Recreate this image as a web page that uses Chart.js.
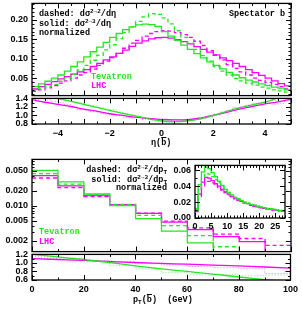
<!DOCTYPE html>
<html>
<head>
<meta charset="utf-8">
<script src="https://cdn.jsdelivr.net/npm/chart.js"></script>
<style>
body { margin: 0; background: #fff; width: 302px; height: 309px; position: relative; overflow: hidden; }
canvas { position: absolute; }
.t { position: absolute; font: bold 8.5px 'Liberation Mono', monospace; line-height: 9px; white-space: nowrap; color: #000; }
.t sup { font-size: 6px; vertical-align: 3px; line-height: 0; }
.t sub { font-size: 6px; vertical-align: -2px; line-height: 0; }
.bar { text-decoration: overline; }
</style>
</head>
<body>
<canvas id="etaMain" width="302" height="111" style="left:0;top:-6px"></canvas>
<canvas id="etaRatio" width="302" height="57" style="left:0;top:89px"></canvas>
<canvas id="ptMain" width="302" height="111" style="left:0;top:150px"></canvas>
<canvas id="ptRatio" width="302" height="57" style="left:0;top:245px"></canvas>
<canvas id="ptLow" width="124" height="80" style="left:165px;top:156px"></canvas>

<div class="t" style="left:39px;top:10px">dashed: dσ<sup>2→2</sup>/dη</div>
<div class="t" style="left:39px;top:20px">solid: dσ<sup>2→3</sup>/dη</div>
<div class="t" style="left:39px;top:29px">normalized</div>
<div class="t" style="left:229px;top:10px">Spectator b</div>
<div class="t" style="left:91px;top:73px;color:#22e822">Tevatron</div>
<div class="t" style="left:91px;top:82px;color:#ff00ff">LHC</div>
<div class="t" style="left:151px;top:139px">η(<span class="bar">b</span>)</div>

<div class="t" style="right:135px;top:166px;text-align:right">dashed: dσ<sup>2→2</sup>/dp<sub>T</sub></div>
<div class="t" style="right:135px;top:176px;text-align:right">solid: dσ<sup>2→3</sup>/dp<sub>T</sub></div>
<div class="t" style="right:135px;top:184px;text-align:right">normalized</div>
<div class="t" style="left:39px;top:228px;color:#22e822">Tevatron</div>
<div class="t" style="left:39px;top:238px;color:#ff00ff">LHC</div>
<div class="t" style="left:133px;top:296px">p<sub>T</sub>(<span class="bar">b</span>)&nbsp;&nbsp;(GeV)</div>

<script>
// eta of the spectator b, 0.25 wide bins
const etaEdges = [-5, -4.75, -4.5, -4.25, -4, -3.75, -3.5, -3.25, -3, -2.75, -2.5, -2.25, -2, -1.75, -1.5, -1.25, -1, -0.75, -0.5, -0.25,
    0, 0.25, 0.5, 0.75, 1, 1.25, 1.5, 1.75, 2, 2.25, 2.5, 2.75, 3, 3.25, 3.5, 3.75, 4, 4.25, 4.5, 4.75, 5];
const etaTevSolid = [0.028, 0.035, 0.042, 0.050, 0.058, 0.068, 0.080, 0.092, 0.105, 0.118,
    0.130, 0.142, 0.155, 0.165, 0.175, 0.182, 0.187, 0.189, 0.188, 0.183,
    0.170, 0.158, 0.147, 0.135, 0.124, 0.113, 0.102, 0.092, 0.083, 0.074,
    0.065, 0.058, 0.051, 0.045, 0.040, 0.035, 0.031, 0.027, 0.024, 0.020];
const etaTevDashed = [0.020, 0.024, 0.029, 0.034, 0.042, 0.050, 0.060, 0.071, 0.083, 0.096,
    0.109, 0.123, 0.136, 0.152, 0.167, 0.182, 0.196, 0.208, 0.216, 0.214,
    0.205, 0.190, 0.172, 0.155, 0.140, 0.124, 0.108, 0.094, 0.080, 0.068,
    0.058, 0.049, 0.043, 0.037, 0.032, 0.027, 0.024, 0.020, 0.017, 0.014];
const etaLhcSolid = [0.022, 0.028, 0.034, 0.041, 0.048, 0.054, 0.060, 0.066, 0.072, 0.080,
    0.088, 0.097, 0.105, 0.114, 0.122, 0.132, 0.140, 0.146, 0.151, 0.154,
    0.155, 0.153, 0.149, 0.144, 0.138, 0.131, 0.124, 0.117, 0.110, 0.102,
    0.095, 0.088, 0.080, 0.072, 0.064, 0.057, 0.050, 0.043, 0.036, 0.030];
const etaLhcDashed = [0.016, 0.020, 0.025, 0.031, 0.037, 0.043, 0.050, 0.058, 0.064, 0.073,
    0.083, 0.094, 0.103, 0.114, 0.127, 0.140, 0.147, 0.158, 0.165, 0.170,
    0.172, 0.171, 0.167, 0.162, 0.155, 0.145, 0.134, 0.121, 0.109, 0.097,
    0.085, 0.075, 0.066, 0.058, 0.050, 0.044, 0.039, 0.034, 0.028, 0.022];

// fitted ratio 2->3 / 2->2 vs eta
const etaFitX = [-5, -4.5, -4, -3.5, -3, -2.5, -2, -1.5, -1, -0.5, 0, 0.5, 1, 1.5, 2, 2.5, 3, 3.5, 4, 4.5, 5];
const etaTevRatio = [1.60, 1.50, 1.40, 1.33, 1.26, 1.19, 1.12, 1.05, 0.99, 0.92, 0.87, 0.855, 0.87, 0.92, 1.00, 1.09, 1.18, 1.25, 1.31, 1.42, 1.55];
const etaLhcRatio = [1.37, 1.31, 1.26, 1.21, 1.15, 1.10, 1.04, 1.00, 0.96, 0.93, 0.905, 0.895, 0.90, 0.94, 1.00, 1.07, 1.15, 1.21, 1.27, 1.32, 1.38];

// pT of the spectator b, 10 GeV bins
const ptEdges = [0, 10, 20, 30, 40, 50, 60, 70, 80, 90, 100];
const ptTevSolid = [0.051, 0.030, 0.0172, 0.0100, 0.0055, 0.0031, 0.0018, 0.0011, 0.0007, 0.0005];
const ptTevDashed = [0.044, 0.027, 0.0165, 0.0106, 0.0064, 0.0040, 0.0025, 0.0015, 0.0010, 0.0007];
const ptLhcSolid = [0.040, 0.025, 0.0160, 0.0105, 0.0070, 0.0047, 0.0033, 0.0024, 0.0019, 0.0012];
const ptLhcDashed = [0.036, 0.023, 0.0153, 0.0103, 0.0071, 0.0049, 0.0036, 0.0027, 0.0022, 0.0016];

const ptFitX = [0, 10, 20, 30, 40, 50, 60, 70, 80, 90, 100];
const ptTevRatio = [1.20, 1.14, 1.08, 1.01, 0.93, 0.86, 0.80, 0.74, 0.67, 0.61, 0.56];
const ptLhcRatio = [1.10, 1.08, 1.06, 1.035, 1.01, 0.99, 0.97, 0.95, 0.93, 0.905, 0.88];

// inset: low pT, 1 GeV bins
const lowEdges = [0, 1, 2, 3, 4, 5, 6, 7, 8, 9, 10, 11, 12, 13, 14, 15, 16, 17, 18, 19, 20, 21, 22, 23, 24, 25, 26, 27, 28];
const lowTevSolid = [0.012, 0.042, 0.058, 0.064, 0.062, 0.057, 0.052, 0.046, 0.041, 0.036, 0.032, 0.029, 0.026, 0.024,
    0.022, 0.020, 0.018, 0.017, 0.016, 0.015, 0.014, 0.013, 0.012, 0.0115, 0.011, 0.010, 0.0095, 0.009];
const lowTevDashed = [0.010, 0.036, 0.050, 0.056, 0.055, 0.052, 0.048, 0.044, 0.040, 0.036, 0.032, 0.029, 0.026, 0.024,
    0.022, 0.020, 0.019, 0.017, 0.016, 0.015, 0.014, 0.013, 0.012, 0.0115, 0.011, 0.010, 0.0095, 0.009];
const lowLhcSolid = [0.010, 0.030, 0.045, 0.051, 0.050, 0.047, 0.043, 0.040, 0.036, 0.033, 0.030, 0.027, 0.025, 0.023,
    0.021, 0.019, 0.018, 0.016, 0.015, 0.014, 0.013, 0.012, 0.0115, 0.011, 0.010, 0.0095, 0.009, 0.0085];
const lowLhcDashed = [0.008, 0.027, 0.040, 0.046, 0.046, 0.044, 0.041, 0.038, 0.035, 0.032, 0.029, 0.027, 0.024, 0.022,
    0.021, 0.019, 0.018, 0.016, 0.015, 0.014, 0.013, 0.012, 0.0115, 0.011, 0.010, 0.0095, 0.009, 0.0085];

// tick labels
const etaTicks = [-4, -2, 0, 2, 4];
const etaYTicks = [0.05, 0.10, 0.15, 0.20];
const etaRatioTicks = [0.8, 1.0, 1.2, 1.4];
const ptTicks = [0, 20, 40, 60, 80, 100];
const ptYTicks = [0.002, 0.005, 0.01, 0.02, 0.05];
const ptRatioTicks = [0.6, 0.8, 1.0, 1.2];
const lowTicks = [0, 5, 10, 15, 20, 25];
const lowYTicks = [0, 0.02, 0.04, 0.06];

const GREEN = '#22e822';
const MAGENTA = '#ff00ff';

Chart.defaults.font.family = "'Liberation Sans', Arial, sans-serif";
Chart.defaults.font.size = 9;
Chart.defaults.font.weight = 'bold';
Chart.defaults.color = '#000';

function steps(a, b, d) {
    var out = [];
    for (var v = a; v <= b + 1e-9; v += d) out.push(Math.round(v * 1000) / 1000);
    return out;
}

function logMinor(lo, hi) {
    var out = [];
    [0.001, 0.01, 0.1].forEach(function(dec) {
        for (var m = 1; m <= 9; m++) {
            var v = m * dec;
            if (v >= lo && v <= hi) out.push(v);
        }
    });
    return out;
}

// bin i holds vals[i] from edges[i] to edges[i+1]
function hist(edges, vals) {
    const pts = vals.map((v, i) => ({x: edges[i], y: v}));
    pts.push({x: edges[edges.length - 1], y: vals[vals.length - 1]});
    return pts;
}

function curve(xs, vals) {
    return vals.map((v, i) => ({x: xs[i], y: v}));
}

function ratio(a, b) {
    return a.map((v, i) => v / b[i]);
}

function ds(data, color, kind) {
    const d = {data: data, borderColor: color, borderWidth: 1.3, pointRadius: 0, fill: false, clip: 0};
    // 'before' in chart.js draws the horizontal part first, so each bin keeps its own value
    if (kind === 'solid') d.stepped = 'before';
    if (kind === 'dashed') { d.stepped = 'before'; d.borderDash = [4, 3]; }
    if (kind === 'dotted') { d.stepped = 'before'; d.borderDash = [1, 2]; d.borderWidth = 1; }
    if (kind === 'fit') { d.tension = 0.4; d.cubicInterpolationMode = 'monotone'; }
    return d;
}

function axis(o) {
    return {
        type: o.log ? 'logarithmic' : 'linear',
        display: o.show !== false,
        min: o.min,
        max: o.max,
        grid: {display: false, drawTicks: false},
        border: {display: false},
        ticks: {autoSkip: false, maxRotation: 0, padding: o.pad || 4, callback: o.fmt},
        afterBuildTicks: function(s) { s.ticks = (o.ticks || []).map(v => ({value: v})); },
        afterFit: function(s) {
            if (o.w) s.width = o.w;
            if (o.h) s.height = o.h;
        }
    };
}

// black frame with inward ticks on all four sides
function frame(marks) {
    return {
        id: 'frame',
        afterDatasetsDraw: function(chart) {
            const ctx = chart.ctx, a = chart.chartArea, x = chart.scales.x, y = chart.scales.y;
            ctx.save();
            ctx.strokeStyle = '#000';
            ctx.lineWidth = 1;
            ctx.beginPath();
            function xt(vals, len) {
                vals.forEach(function(v) {
                    const p = Math.round(x.getPixelForValue(v)) + 0.5;
                    ctx.moveTo(p, a.bottom); ctx.lineTo(p, a.bottom - len);
                    ctx.moveTo(p, a.top); ctx.lineTo(p, a.top + len);
                });
            }
            function yt(vals, len) {
                vals.forEach(function(v) {
                    const p = Math.round(y.getPixelForValue(v)) + 0.5;
                    ctx.moveTo(a.left, p); ctx.lineTo(a.left + len, p);
                    ctx.moveTo(a.right, p); ctx.lineTo(a.right - len, p);
                });
            }
            xt(marks.xMinor, 2.5); xt(marks.xMajor, 5);
            yt(marks.yMinor, 2.5); yt(marks.yMajor, 5);
            ctx.stroke();
            ctx.lineWidth = 1.3;
            ctx.strokeRect(a.left, a.top, a.right - a.left, a.bottom - a.top);
            ctx.restore();
        }
    };
}

const whiteArea = {
    id: 'whiteArea',
    beforeDatasetsDraw: function(chart) {
        const a = chart.chartArea;
        chart.ctx.save();
        chart.ctx.fillStyle = '#fff';
        chart.ctx.fillRect(a.left, a.top, a.right - a.left, a.bottom - a.top);
        chart.ctx.restore();
    }
};

function minus(v) {
    return v < 0 ? '\u2212' + (-v) : String(v);
}

function makeChart(id, datasets, scales, padding, marks, extra) {
    return new Chart(document.getElementById(id), {
        type: 'line',
        data: {datasets: datasets},
        options: {
            animation: false,
            responsive: false,
            devicePixelRatio: 1,
            layout: {padding: padding},
            plugins: {legend: {display: false}, tooltip: {enabled: false}},
            scales: scales
        },
        plugins: (extra || []).concat([frame(marks)])
    });
}

// eta distributions
makeChart('etaMain', [
    ds(hist(etaEdges, etaTevDashed), GREEN, 'dashed'),
    ds(hist(etaEdges, etaTevSolid), GREEN, 'solid'),
    ds(hist(etaEdges, etaLhcDashed), MAGENTA, 'dashed'),
    ds(hist(etaEdges, etaLhcSolid), MAGENTA, 'solid')
], {
    x: axis({show: false, min: -5, max: 5, ticks: etaTicks}),
    y: axis({min: 0.005, max: 0.2425, ticks: etaYTicks, w: 32, fmt: v => v.toFixed(2)})
}, {top: 8, bottom: 8, left: 0, right: 11}, {
    xMajor: steps(-5, 5, 1), xMinor: steps(-5, 5, 0.5),
    yMajor: etaYTicks, yMinor: steps(0.01, 0.24, 0.01)
});

makeChart('etaRatio', [
    ds(hist(etaEdges, ratio(etaTevSolid, etaTevDashed)), 'rgba(34,232,34,0.6)', 'dotted'),
    ds(hist(etaEdges, ratio(etaLhcSolid, etaLhcDashed)), 'rgba(255,0,255,0.6)', 'dotted'),
    ds(curve(etaFitX, etaTevRatio), GREEN, 'fit'),
    ds(curve(etaFitX, etaLhcRatio), MAGENTA, 'fit')
], {
    x: axis({min: -5, max: 5, ticks: etaTicks, h: 20, pad: 4, fmt: v => minus(v)}),
    y: axis({min: 0.8, max: 1.4, ticks: etaRatioTicks, w: 32, fmt: v => v.toFixed(1)})
}, {top: 8, bottom: 2, left: 0, right: 11}, {
    xMajor: steps(-5, 5, 1), xMinor: steps(-5, 5, 0.5),
    yMajor: etaRatioTicks, yMinor: steps(0.8, 1.4, 0.1)
});

// pT distributions
makeChart('ptMain', [
    ds(hist(ptEdges, ptTevDashed), GREEN, 'dashed'),
    ds(hist(ptEdges, ptTevSolid), GREEN, 'solid'),
    ds(hist(ptEdges, ptLhcDashed), MAGENTA, 'dashed'),
    ds(hist(ptEdges, ptLhcSolid), MAGENTA, 'solid')
], {
    x: axis({show: false, min: 0, max: 100, ticks: ptTicks}),
    y: axis({log: true, min: 0.0012, max: 0.085, ticks: ptYTicks, w: 32, fmt: v => v.toFixed(3)})
}, {top: 8, bottom: 8, left: 0, right: 11}, {
    xMajor: ptTicks, xMinor: steps(0, 100, 10),
    yMajor: ptYTicks, yMinor: logMinor(0.0012, 0.085)
});

makeChart('ptRatio', [
    ds(hist(ptEdges, ratio(ptTevSolid, ptTevDashed)), 'rgba(34,232,34,0.6)', 'dotted'),
    ds(hist(ptEdges, ratio(ptLhcSolid, ptLhcDashed)), 'rgba(255,0,255,0.6)', 'dotted'),
    ds(curve(ptFitX, ptTevRatio), GREEN, 'fit'),
    ds(curve(ptFitX, ptLhcRatio), MAGENTA, 'fit')
], {
    x: axis({min: 0, max: 100, ticks: ptTicks, h: 20, pad: 4}),
    y: axis({min: 0.6, max: 1.2, ticks: ptRatioTicks, w: 32, fmt: v => v.toFixed(1)})
}, {top: 8, bottom: 2, left: 0, right: 11}, {
    xMajor: ptTicks, xMinor: steps(0, 100, 10),
    yMajor: ptRatioTicks, yMinor: steps(0.6, 1.2, 0.1)
});

// inset, low pT
makeChart('ptLow', [
    ds(hist(lowEdges, lowTevDashed), GREEN, 'dashed'),
    ds(hist(lowEdges, lowTevSolid), GREEN, 'solid'),
    ds(hist(lowEdges, lowLhcDashed), MAGENTA, 'dashed'),
    ds(hist(lowEdges, lowLhcSolid), MAGENTA, 'solid')
], {
    x: axis({min: 0, max: 28, ticks: lowTicks, h: 16, pad: 3}),
    y: axis({min: 0, max: 0.066, ticks: lowYTicks, w: 30, pad: 4, fmt: v => v.toFixed(2)})
}, {top: 8, bottom: 2, left: 0, right: 4}, {
    xMajor: lowTicks, xMinor: steps(0, 28, 1),
    yMajor: lowYTicks, yMinor: steps(0, 0.066, 0.01)
}, [whiteArea]);
</script>
</body>
</html>
